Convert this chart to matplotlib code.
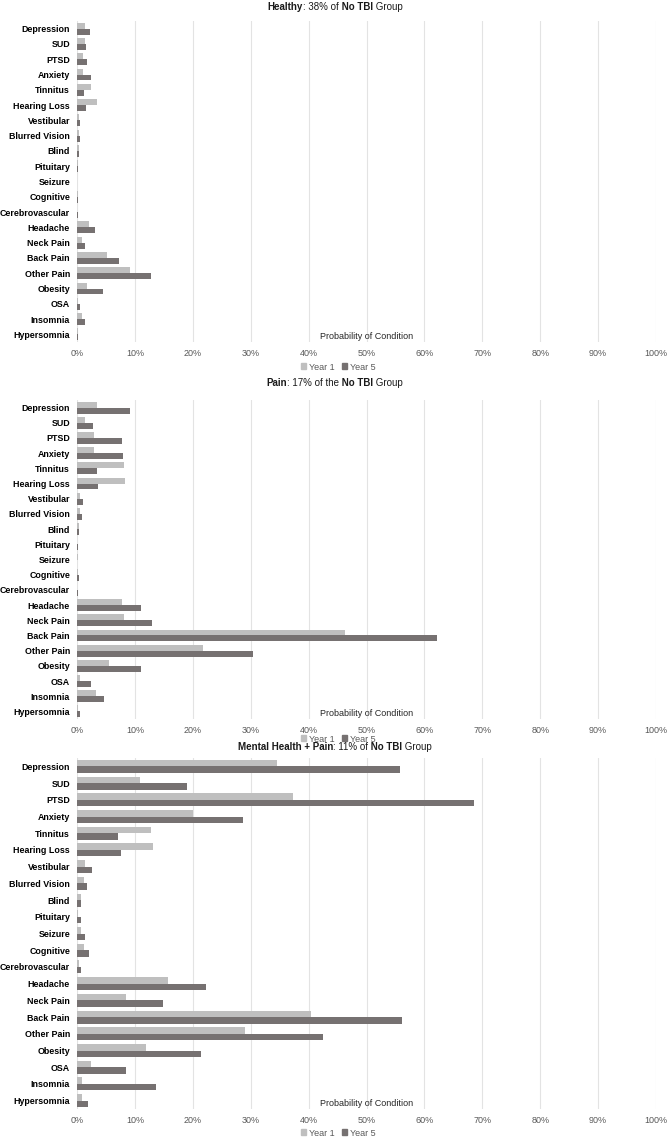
import matplotlib
matplotlib.use("Agg")
import matplotlib.pyplot as plt
from matplotlib.offsetbox import TextArea, HPacker, AnnotationBbox
from matplotlib.patches import Patch
import numpy as np

plt.rcParams['font.family'] = ['Liberation Sans', 'DejaVu Sans']

conditions = ['Depression', 'SUD', 'PTSD', 'Anxiety', 'Tinnitus', 'Hearing Loss',
              'Vestibular', 'Blurred Vision', 'Blind', 'Pituitary', 'Seizure',
              'Cognitive', 'Cerebrovascular', 'Headache', 'Neck Pain', 'Back Pain',
              'Other Pain', 'Obesity', 'OSA', 'Insomnia', 'Hypersomnia']

# percent values
healthy_y1 = [1.3, 1.3, 1.0, 1.1, 2.4, 3.4, 0.3, 0.35, 0.3, 0.15, 0.05,
              0.15, 0.05, 2.1, 0.9, 5.1, 9.2, 1.8, 0.1, 0.8, 0.2]
healthy_y5 = [2.3, 1.6, 1.8, 2.5, 1.2, 1.6, 0.6, 0.6, 0.4, 0.1, 0.05,
              0.1, 0.15, 3.1, 1.45, 7.2, 12.7, 4.5, 0.6, 1.3, 0.1]

pain_y1 = [3.5, 1.4, 2.9, 2.9, 8.2, 8.3, 0.5, 0.5, 0.3, 0.05, 0.1,
           0.2, 0.05, 7.7, 8.1, 46.3, 21.7, 5.5, 0.5, 3.3, 0.2]
pain_y5 = [9.1, 2.8, 7.7, 7.9, 3.5, 3.6, 1.0, 0.8, 0.3, 0.15, 0.05,
           0.3, 0.15, 11.0, 13.0, 62.2, 30.4, 11.1, 2.5, 4.7, 0.5]

mhp_y1 = [34.6, 10.8, 37.3, 20.0, 12.8, 13.2, 1.45, 1.2, 0.7, 0.2, 0.7,
          1.2, 0.35, 15.8, 8.5, 40.4, 29.0, 12.0, 2.4, 0.9, 0.9]
mhp_y5 = [55.7, 19.0, 68.6, 28.7, 7.05, 7.6, 2.6, 1.7, 0.7, 0.75, 1.4,
          2.1, 0.7, 22.3, 14.9, 56.2, 42.5, 21.4, 8.4, 13.7, 1.9]

titles = [
    [('Healthy', 'bold'), (': 38% of', 'normal'), (' No TBI', 'bold'), (' Group', 'normal')],
    [('Pain', 'bold'), (': 17% of the', 'normal'), (' No TBI', 'bold'), (' Group', 'normal')],
    [('Mental Health + Pain', 'bold'), (': 11% of', 'normal'), (' No TBI', 'bold'), (' Group', 'normal')],
]

c_y1 = '#BFBFBF'
c_y5 = '#767171'
grid_c = '#E3E3E3'
tick_c = '#595959'

W, H = 670, 1139
fig = plt.figure(figsize=(W / 100, H / 100), dpi=100)

# (top px, bottom px, title px, legend px)
layout = [(21, 342, 7, 367), (400, 719, 383, 739), (758, 1109, 747, 1133)]
panels = [(healthy_y1, healthy_y5), (pain_y1, pain_y5), (mhp_y1, mhp_y5)]

left, right = 77, 656
y = np.arange(len(conditions))
h = 0.39

for (top, bot, ty, ly), (v1, v5), tparts in zip(layout, panels, titles):
    ax = fig.add_axes([left / W, 1 - bot / H, (right - left) / W, (bot - top) / H])
    ax.barh(y - h / 2, v1, height=h, color=c_y1, zorder=3)
    ax.barh(y + h / 2, v5, height=h, color=c_y5, zorder=3)
    ax.set_xlim(0, 100)
    ax.set_ylim(len(conditions) - 0.5, -0.5)
    ax.set_xticks(np.arange(0, 101, 10))
    ax.set_xticklabels([f'{t}%' for t in range(0, 101, 10)])
    ax.set_yticks(y)
    ax.set_yticklabels(conditions, fontweight='bold', fontsize=6.4)
    ax.tick_params(axis='x', length=0, pad=5, labelsize=6.5, labelcolor=tick_c)
    ax.tick_params(axis='y', length=0, pad=5)
    ax.grid(axis='x', color=grid_c, linewidth=0.8, zorder=0)
    for s in ax.spines.values():
        s.set_visible(False)
    ax.text(50, len(conditions) - 0.55, 'Probability of Condition', ha='center',
            va='bottom', fontsize=6.5, color='#262626')

    boxes = [TextArea(t, textprops=dict(fontsize=7, fontweight=w, color='#1a1a1a'))
             for t, w in tparts]
    pack = HPacker(children=boxes, align='baseline', pad=0, sep=0)
    ab = AnnotationBbox(pack, (0.5, 1 - ty / H), xycoords='figure fraction',
                        frameon=False, box_alignment=(0.5, 0.5))
    fig.add_artist(ab)

    handles = [Patch(color=c_y1, label='Year 1'), Patch(color=c_y5, label='Year 5')]
    fig.legend(handles=handles, loc='center', bbox_to_anchor=(338 / W, 1 - ly / H),
               ncol=2, frameon=False, fontsize=6.5, handlelength=0.6, handleheight=0.6,
               handletextpad=0.3, columnspacing=0.8, labelcolor=tick_c,
               borderaxespad=0, borderpad=0)

fig.savefig('out.png', dpi=100)
